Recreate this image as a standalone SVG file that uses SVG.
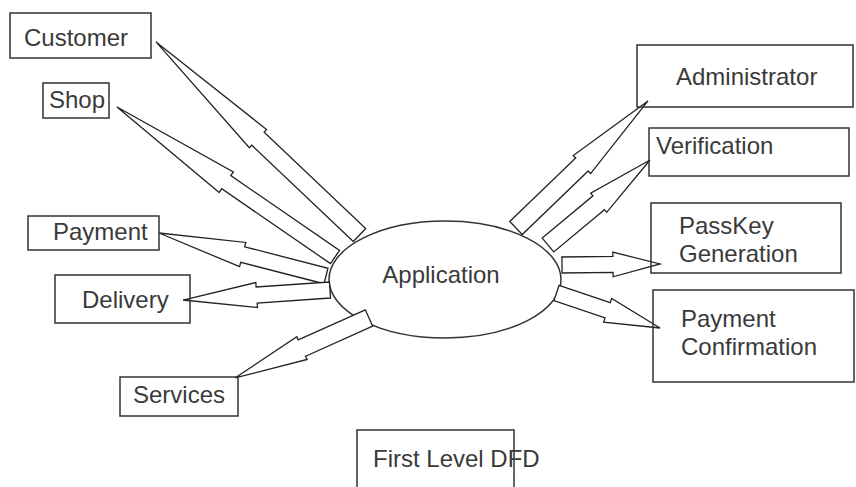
<svg xmlns="http://www.w3.org/2000/svg" width="856" height="487" viewBox="0 0 856 487">
<style>
.box{fill:none;stroke:#333;stroke-width:1.5}
.proc{fill:#fff;stroke:#333;stroke-width:1.5}
.arr{fill:#fff;stroke:#222;stroke-width:1.3;stroke-linejoin:miter}
text{font-family:"Liberation Sans",Arial,sans-serif;font-size:24px;fill:#3a3a3a}
</style>
<rect width="856" height="487" fill="#fff"/>
<g id="application">
<ellipse class="proc" cx="445" cy="279.5" rx="116" ry="58.5"/>
<text x="441" y="283" text-anchor="middle">Application</text>
</g>
<g id="connectors">
<polygon class="arr" transform="translate(359.5,235) rotate(-136.5)" points="0,-9 140,-9 140,-12.5 280.5,0 140,12.5 140,9 0,9"/>
<polygon class="arr" transform="translate(335,257) rotate(-145.47)" points="0,-8 132,-8 132,-12.5 264.6,0 132,12.5 132,8 0,8"/>
<polygon class="arr" transform="translate(326,276) rotate(-165.56)" points="0,-8 86,-8 86,-12.5 172.4,0 86,12.5 86,8 0,8"/>
<polygon class="arr" transform="translate(330,290) rotate(176.1)" points="0,-8 73.5,-8 73.5,-12.5 147.3,0 73.5,12.5 73.5,8 0,8"/>
<polygon class="arr" transform="translate(369,318) rotate(155.88)" points="0,-9 73.5,-9 73.5,-12.5 146.8,0 73.5,12.5 73.5,9 0,9"/>
<polygon class="arr" transform="translate(516,228) rotate(-43.9)" points="0,-9 91.5,-9 91.5,-12.5 183.2,0 91.5,12.5 91.5,9 0,9"/>
<polygon class="arr" transform="translate(548,245) rotate(-39.81)" points="0,-9 66,-9 66,-12.5 132.8,0 66,12.5 66,9 0,9"/>
<polygon class="arr" transform="translate(562,265) rotate(-0.6)" points="0,-8 51,-8 51,-12.3 98,0 51,12.3 51,8 0,8"/>
<polygon class="arr" transform="translate(556.5,293) rotate(18.68)" points="0,-8 54,-8 54,-12.5 109.3,0 54,12.5 54,8 0,8"/>
</g>
<g id="customer"><rect class="box" x="10" y="13" width="141" height="45"/><text x="24" y="46">Customer</text></g>
<g id="shop"><rect class="box" x="43" y="83" width="66" height="35"/><text x="49" y="108">Shop</text></g>
<g id="payment"><rect class="box" x="28" y="216" width="131" height="34"/><text x="53" y="240">Payment</text></g>
<g id="delivery"><rect class="box" x="55" y="275" width="135" height="48"/><text x="82" y="308">Delivery</text></g>
<g id="services"><rect class="box" x="120" y="377" width="118" height="39"/><text x="133" y="403">Services</text></g>
<g id="administrator"><rect class="box" x="637" y="45" width="216" height="62"/><text x="676" y="85">Administrator</text></g>
<g id="verification"><rect class="box" x="649" y="128" width="200" height="48"/><text x="656" y="154">Verification</text></g>
<g id="passkey"><rect class="box" x="651" y="203" width="190" height="70"/><text x="679" y="234">PassKey</text><text x="679" y="262">Generation</text></g>
<g id="payment-confirmation"><rect class="box" x="653" y="290" width="201" height="92"/><text x="681" y="327">Payment</text><text x="681" y="355">Confirmation</text></g>
<g id="title"><rect class="box" x="357" y="430" width="157" height="70"/><text x="373" y="467">First Level DFD</text></g>
</svg>
